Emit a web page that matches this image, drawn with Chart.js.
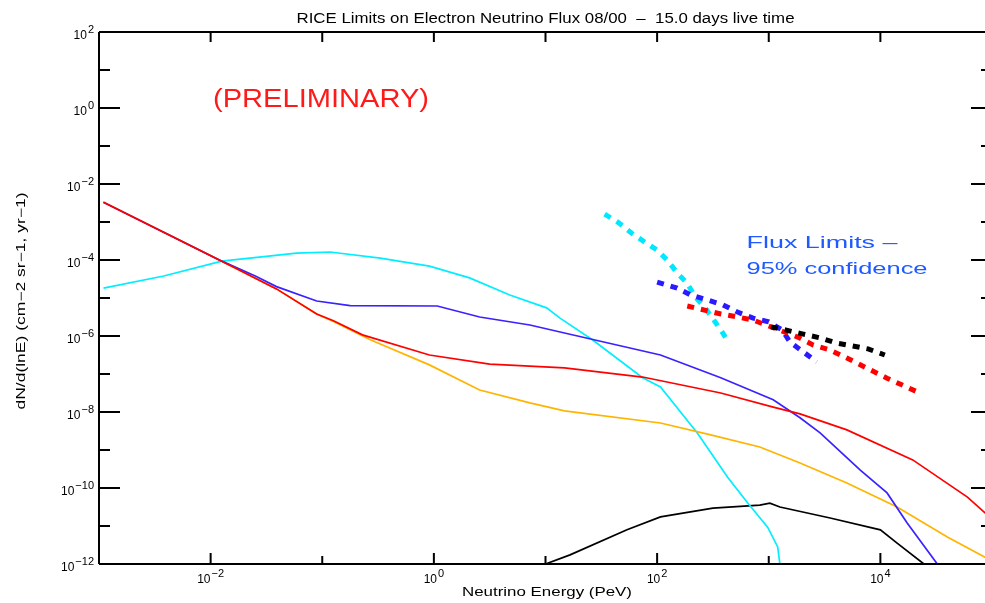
<!DOCTYPE html>
<html>
<head>
<meta charset="utf-8">
<script src="https://cdn.jsdelivr.net/npm/chart.js@4.4.0/dist/chart.umd.min.js"></script>
<style>
html,body{margin:0;padding:0;background:#fff;overflow:hidden;width:985px;height:603px;}
canvas{display:block;}
</style>
</head>
<body>
<canvas id="c" width="1000" height="603"></canvas>
<script>
// ---- data (log10 of energy in PeV, log10 of flux) ----
const redLogE    = [-2.96, -1.90, -1.41, -1.05, -0.90, -0.64, -0.04, 0.50, 1.17, 1.87, 2.57, 3.04, 3.28, 3.70, 4.29, 4.78, 5.00];
const redLogF    = [-2.48, -4.03, -4.76, -5.42, -5.60, -5.97, -6.50, -6.74, -6.84, -7.08, -7.50, -7.87, -8.05, -8.47, -9.26, -10.24, -10.82];

const orangeLogE = [-2.96, -1.90, -1.41, -1.05, -0.90, -0.57, -0.04, 0.41, 0.86, 1.17, 2.03, 2.48, 2.92, 3.10, 3.28, 3.70, 4.15, 4.60, 5.00];
const orangeLogF = [-2.48, -4.03, -4.76, -5.42, -5.62, -6.10, -6.76, -7.42, -7.76, -7.97, -8.29, -8.60, -8.92, -9.13, -9.34, -9.87, -10.50, -11.29, -11.92];

const blueLogE   = [-2.96, -1.90, -1.60, -1.41, -1.05, -0.75, 0.03, 0.41, 0.86, 1.17, 2.03, 2.57, 3.04, 3.28, 3.46, 3.82, 4.06, 4.24, 4.51];
const blueLogF   = [-2.48, -4.03, -4.42, -4.70, -5.08, -5.20, -5.21, -5.50, -5.71, -5.92, -6.50, -7.10, -7.68, -8.15, -8.55, -9.53, -10.13, -10.92, -12.00];

const cyanLogE   = [-2.96, -2.42, -1.90, -1.23, -0.93, -0.48, -0.04, 0.32, 0.68, 1.01, 1.13, 1.42, 1.87, 2.03, 2.36, 2.63, 2.81, 2.99, 3.08, 3.10];
const cyanLogF   = [-4.74, -4.42, -4.03, -3.82, -3.79, -3.95, -4.16, -4.47, -4.92, -5.26, -5.53, -6.10, -7.10, -7.34, -8.55, -9.71, -10.39, -11.03, -11.55, -12.00];

const blackLogE  = [1.00, 1.22, 1.73, 2.03, 2.50, 2.92, 3.01, 3.10, 3.55, 4.00, 4.15, 4.39];
const blackLogF  = [-12.00, -11.76, -11.10, -10.76, -10.53, -10.45, -10.40, -10.50, -10.79, -11.10, -11.45, -12.00];

// 95% confidence flux limits
const cyanLimLogE  = [1.53, 1.66, 1.77, 1.89, 2.00, 2.09, 2.18, 2.27, 2.34, 2.43, 2.57, 2.64];
const cyanLimLogF  = [-2.79, -3.03, -3.29, -3.53, -3.74, -4.00, -4.34, -4.61, -4.97, -5.26, -5.84, -6.16];
const blueLimLogE  = [2.00, 2.18, 2.30, 2.45, 2.59, 2.72, 2.86, 3.00, 3.12, 3.19, 3.31, 3.43];
const blueLimLogF  = [-4.58, -4.74, -4.92, -5.05, -5.18, -5.37, -5.53, -5.63, -5.84, -6.16, -6.42, -6.68];
const redLimLogE   = [2.27, 2.57, 2.72, 2.86, 3.26, 3.40, 3.55, 3.70, 3.91, 4.06, 4.33];
const redLimLogF   = [-5.21, -5.42, -5.50, -5.58, -6.03, -6.24, -6.37, -6.58, -6.89, -7.11, -7.47];
const blackLimLogE = [3.02, 3.15, 3.31, 3.46, 3.60, 3.75, 3.89, 4.04];
const blackLimLogF = [-5.76, -5.84, -5.95, -6.05, -6.18, -6.26, -6.34, -6.50];

// tick exponents
const xTickExps      = [-2, 0, 2, 4];
const xMinorTickExps = [-1, 1, 3];
const yTickExps      = [2, 0, -2, -4, -6, -8, -10, -12];
const yMinorTickExps = [1, -1, -3, -5, -7, -9, -11];

const titleText = 'RICE Limits on Electron Neutrino Flux 08/00  \u2013  15.0 days live time';
const xTitle = 'Neutrino Energy (PeV)';
const yTitle = 'dN/d(lnE) (cm\u22122 sr\u22121, yr\u22121)';
const prelimText = '(PRELIMINARY)';
const noteLine1 = 'Flux Limits \u2013';
const noteLine2 = '95% confidence';

// ---- build ----
function pts(le, lf){ return le.map((e,i)=>({x:Math.pow(10,e), y:Math.pow(10,lf[i])})); }
function curve(le, lf, color){
  return {data:pts(le,lf), borderColor:color, borderWidth:1.7, pointRadius:0, tension:0, fill:false};
}
function limit(le, lf, color){
  return {data:pts(le,lf), borderColor:color, borderWidth:5, borderDash:[7,7], borderCapStyle:'butt', pointRadius:0, tension:0, fill:false};
}

function drawFit(ctx, text, cx, cy, w, font, color, rot){
  ctx.save();
  ctx.translate(cx, cy);
  if (rot) ctx.rotate(rot);
  ctx.font = font;
  ctx.fillStyle = color;
  ctx.textAlign = 'center';
  ctx.textBaseline = 'middle';
  const m = ctx.measureText(text).width;
  ctx.scale(w/m, 1);
  ctx.fillText(text, 0, 0);
  ctx.restore();
}
function powParts(exp){ return exp < 0 ? '\u2212' + Math.abs(exp) : String(exp); }

const frame = {
  id:'frame',
  afterDraw(chart){
    const ctx = chart.ctx, a = chart.chartArea;
    const xs = chart.scales.x, ys = chart.scales.y;
    ctx.save();
    ctx.strokeStyle = '#000';
    ctx.lineWidth = 2;
    ctx.beginPath();
    ctx.moveTo(a.left, a.top); ctx.lineTo(a.right, a.top);
    ctx.moveTo(a.left, a.top); ctx.lineTo(a.left, a.bottom);
    ctx.moveTo(a.left, a.bottom); ctx.lineTo(a.right, a.bottom);
    ctx.moveTo(a.right, a.top); ctx.lineTo(a.right, a.bottom);
    // x ticks
    xTickExps.forEach(e=>{
      const p = xs.getPixelForValue(Math.pow(10,e));
      ctx.moveTo(p, a.bottom); ctx.lineTo(p, a.bottom-11);
      ctx.moveTo(p, a.top); ctx.lineTo(p, a.top+10);
    });
    xMinorTickExps.forEach(e=>{
      const p = xs.getPixelForValue(Math.pow(10,e));
      ctx.moveTo(p, a.bottom); ctx.lineTo(p, a.bottom-8);
      ctx.moveTo(p, a.top); ctx.lineTo(p, a.top+10);
    });
    // y ticks
    yTickExps.forEach(e=>{
      const p = ys.getPixelForValue(Math.pow(10,e));
      ctx.moveTo(a.left, p); ctx.lineTo(a.left+21, p);
      ctx.moveTo(a.right, p); ctx.lineTo(a.right-21, p);
    });
    yMinorTickExps.forEach(e=>{
      const p = ys.getPixelForValue(Math.pow(10,e));
      ctx.moveTo(a.left, p); ctx.lineTo(a.left+11, p);
      ctx.moveTo(a.right, p); ctx.lineTo(a.right-11, p);
    });
    ctx.stroke();

    // y tick labels
    ctx.fillStyle = '#000';
    ctx.textBaseline = 'alphabetic';
    yTickExps.forEach(e=>{
      const p = ys.getPixelForValue(Math.pow(10,e));
      const ex = powParts(e);
      ctx.font = '12px "Liberation Sans", Arial, sans-serif';
      const w1 = ctx.measureText('10').width;
      ctx.font = '11px "Liberation Sans", Arial, sans-serif';
      const w2 = ctx.measureText(ex).width;
      const right = a.left - 5;
      const x0 = right - w1 - w2 - 1;
      ctx.font = '12px "Liberation Sans", Arial, sans-serif';
      ctx.textAlign = 'left';
      ctx.fillText('10', x0, p + 7);
      ctx.font = '11px "Liberation Sans", Arial, sans-serif';
      ctx.fillText(ex, x0 + w1 + 1, p + 0.5);
    });
    // x tick labels
    xTickExps.forEach(e=>{
      const p = xs.getPixelForValue(Math.pow(10,e));
      const ex = powParts(e);
      ctx.font = '12px "Liberation Sans", Arial, sans-serif';
      const w1 = ctx.measureText('10').width;
      ctx.font = '11px "Liberation Sans", Arial, sans-serif';
      const w2 = ctx.measureText(ex).width;
      const x0 = p - (w1 + w2 + 1)/2;
      ctx.textAlign = 'left';
      ctx.font = '12px "Liberation Sans", Arial, sans-serif';
      ctx.fillText('10', x0, a.bottom + 19);
      ctx.font = '11px "Liberation Sans", Arial, sans-serif';
      ctx.fillText(ex, x0 + w1 + 1, a.bottom + 13);
    });
    ctx.restore();

    const cx = (a.left + a.right)/2;
    drawFit(ctx, titleText, cx, 19, 498, '14px "Liberation Sans", Arial, sans-serif', '#000', 0);
    drawFit(ctx, xTitle, 547, 593, 170, '12px "Liberation Sans", Arial, sans-serif', '#000', 0);
    drawFit(ctx, yTitle, 22, 301, 217, '12px "Liberation Sans", Arial, sans-serif', '#000', -Math.PI/2);
    drawFit(ctx, prelimText, 321, 100, 216, '26px "Liberation Sans", Arial, sans-serif', '#ff1a1a', 0);
    drawFit(ctx, noteLine1, 822, 243, 151, '17px "Liberation Sans", Arial, sans-serif', '#1e5aff', 0);
    drawFit(ctx, noteLine2, 837, 269, 181, '17px "Liberation Sans", Arial, sans-serif', '#1e5aff', 0);
  }
};

new Chart(document.getElementById('c'), {
  type:'line',
  data:{
    datasets:[
      limit(blackLimLogE, blackLimLogF, '#000000'),
      limit(redLimLogE, redLimLogF, '#ff0000'),
      limit(blueLimLogE, blueLimLogF, '#2a1aff'),
      limit(cyanLimLogE, cyanLimLogF, '#00e8ff'),
      curve(redLogE, redLogF, '#ff0000'),
      curve(blueLogE, blueLogF, '#3a22ff'),
      curve(orangeLogE, orangeLogF, '#ffb400'),
      curve(cyanLogE, cyanLogF, '#00eeff'),
      curve(blackLogE, blackLogF, '#000000')
    ]
  },
  options:{
    responsive:false,
    animation:false,
    layout:{padding:{left:99, right:8, top:32, bottom:39}},
    plugins:{legend:{display:false}, tooltip:{enabled:false}, title:{display:false}},
    scales:{
      x:{type:'logarithmic', min:1e-3, max:1e5, display:false},
      y:{type:'logarithmic', min:1e-12, max:1e2, display:false}
    }
  },
  plugins:[frame]
});
</script>
</body>
</html>
